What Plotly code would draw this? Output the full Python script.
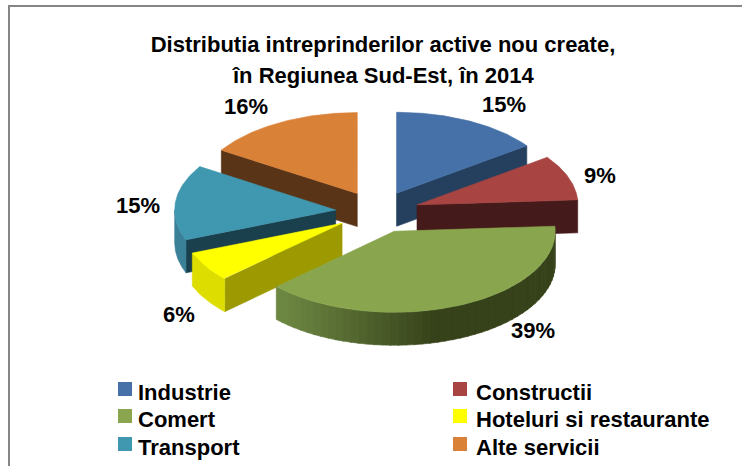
import math
import plotly.graph_objects as go

categories = ["Industrie", "Constructii", "Comert", "Hoteluri si restaurante", "Transport", "Alte servicii"]
values = [15, 9, 39, 6, 15, 16]
top_colors = ["#4571a8", "#a84442", "#89a64e", "#ffff00", "#4097b0", "#da8138"]
face_colors = ["#25405f", "#451a1a", "#3a4a1e", "#9c9a00", "#1a3f4d", "#5a3417"]
rim_colors = ["#2f4f78", "#5a2321", "#5f7a38", "#dddd00", "#3a8096", "#8a5020"]
draw_order = [5, 0, 4, 1, 3, 2]
label_xy = [(504, 104), (600, 175), (533, 330), (179, 314), (138, 205), (246, 106)]
legend_xy = [(125, 389), (460, 389), (125, 416), (460, 416), (125, 444), (460, 444)]

CX, CY, RX, RY, PULL, DEPTH = 377.5, 212, 161, 81, 42, 33
FONT = "Liberation Sans"


def pt(ax, ay, deg, depth=0):
    a = math.radians(deg)
    return ax + RX * math.sin(a), ay - RY * math.cos(a) + depth


def arc(ax, ay, a0, a1, depth=0, n=60):
    return [pt(ax, ay, a0 + (a1 - a0) * i / n, depth) for i in range(n + 1)]


def poly(points, color, name, group):
    xs = [p[0] for p in points] + [points[0][0]]
    ys = [p[1] for p in points] + [points[0][1]]
    return go.Scatter(x=xs, y=ys, mode="lines", fill="toself", fillcolor=color,
                      line=dict(color=color, width=0.6), hoverinfo="text", text=name,
                      showlegend=False, legendgroup=group)


def face(ax, ay, deg):
    p = pt(ax, ay, deg)
    return [(ax, ay), p, (p[0], p[1] + DEPTH), (ax, ay + DEPTH)]


def mix(c0, c1, t):
    return "rgb(%d,%d,%d)" % tuple(round(a + (b - a) * t) for a, b in zip(c0, c1))


bounds = []
acc = 0
for v in values:
    start = acc / sum(values) * 360
    acc += v
    bounds.append((start, acc / sum(values) * 360))

fig = go.Figure()
for i in draw_order:
    a0, a1 = bounds[i]
    mid = math.radians((a0 + a1) / 2)
    ax = CX + PULL * math.sin(mid)
    ay = CY - PULL * 0.5 * math.cos(mid)
    name = f"{categories[i]}: {values[i]}%"
    # side walls that face the viewer
    if a0 >= 180:
        fig.add_trace(poly(face(ax, ay, a0), face_colors[i], name, categories[i]))
    if a1 <= 180:
        fig.add_trace(poly(face(ax, ay, a1), face_colors[i], name, categories[i]))
    # outer rim
    r0, r1 = max(a0, 90), min(a1, 270)
    if r1 > r0:
        if categories[i] == "Comert":
            steps = 48
            for s in range(steps):
                d0 = r0 + (r1 - r0) * s / steps
                d1 = r0 + (r1 - r0) * (s + 1) / steps + 0.3
                x_mid = pt(ax, ay, (d0 + d1) / 2)[0]
                t = min(1, max(0, (x_mid - 285) / 150))
                strip = arc(ax, ay, d0, d1, 0, 3) + arc(ax, ay, d1, d0, DEPTH, 3)
                fig.add_trace(poly(strip, mix((108, 135, 66), (54, 66, 26), t), name, categories[i]))
        else:
            rim = arc(ax, ay, r0, r1) + arc(ax, ay, r1, r0, DEPTH)
            fig.add_trace(poly(rim, rim_colors[i], name, categories[i]))
    # top surface
    fig.add_trace(poly([(ax, ay)] + arc(ax, ay, a0, a1), top_colors[i], name, categories[i]))

# legend entries
for cat, col, (x, y) in zip(categories, top_colors, legend_xy):
    fig.add_trace(go.Scatter(x=[x], y=[y], mode="markers", showlegend=False, hoverinfo="text", text=cat,
                             marker=dict(symbol="square", size=14, color=col, line=dict(width=0))))
    fig.add_annotation(x=x + (11 if x < 300 else 14), y=y + 3, text=f"<b>{cat}</b>", showarrow=False,
                       xanchor="left", yanchor="middle",
                       font=dict(family=FONT, size=22, color="#000000"))

for v, (x, y) in zip(values, label_xy):
    fig.add_annotation(x=x, y=y, text=f"<b>{v}%</b>", showarrow=False, xanchor="center", yanchor="middle",
                       font=dict(family=FONT, size=22, color="#000000"))

fig.add_annotation(x=383, y=75, text="<b>în Regiunea Sud-Est, în 2014</b>", showarrow=False,
                   xanchor="center", yanchor="middle", font=dict(family=FONT, size=22, color="#000000"))

# chart frame
fig.add_shape(type="path", path="M 9 466 L 9 6 L 742 6", line=dict(color="#868686", width=2))

fig.update_layout(
    width=742, height=466, autosize=False,
    margin=dict(l=0, r=0, t=0, b=0),
    paper_bgcolor="#ffffff", plot_bgcolor="#ffffff",
    title=dict(text="<b>Distributia intreprinderilor active nou create,</b>", x=383 / 742, xanchor="center",
               y=1 - 44 / 466, yanchor="middle", font=dict(family=FONT, size=22, color="#000000")),
    xaxis=dict(range=[0, 742], visible=False, fixedrange=True),
    yaxis=dict(range=[466, 0], visible=False, fixedrange=True),
    showlegend=False,
)
fig.write_html("out.html", post_script="document.body.style.margin='0';", config={"displayModeBar": False})
